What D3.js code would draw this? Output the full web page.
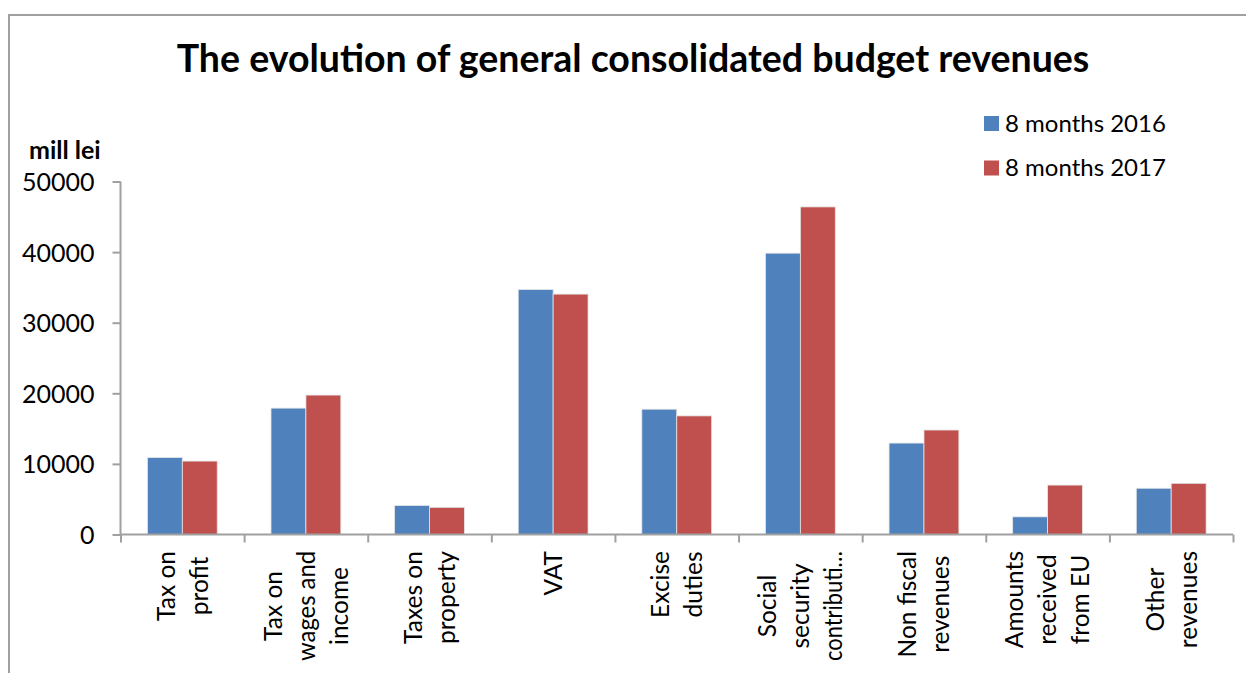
<!DOCTYPE html>
<html>
<head>
<meta charset="utf-8">
<script src="https://cdn.jsdelivr.net/npm/d3@7"></script>
<style>
body { margin: 0; background: #fff; }
svg { display: block; font-family: Lato, "Open Sans", sans-serif; }
</style>
</head>
<body>
<svg width="1246" height="673"></svg>
<script>
var categories = [
  "Tax on\nprofit",
  "Tax on\nwages and\nincome",
  "Taxes on\nproperty",
  "VAT",
  "Excise\nduties",
  "Social\nsecurity\ncontributi\u2026",
  "Non fiscal\nrevenues",
  "Amounts\nreceived\nfrom EU",
  "Other\nrevenues"
];
var seriesNames = ["8 months 2016", "8 months 2017"];
var values2016 = [10900, 17900, 4100, 34700, 17750, 39850, 12950, 2500, 6550];
var values2017 = [10400, 19750, 3850, 34050, 16800, 46400, 14800, 7000, 7250];
var yTicks = [0, 10000, 20000, 30000, 40000, 50000];
var colors = ["#4f81bd", "#c0504d"];

(function() {
var svg = d3.select("svg"),
    plotL = 120.5, plotR = 1233, plotT = 181.5, plotB = 534.5,
    axisColor = "#a0a0a0";

var rows = categories.map(function(c, i) {
  return {cat: c, vals: [values2016[i], values2017[i]]};
});

// outer chart border (only top and left visible in the picture)
svg.append("rect")
  .attr("x", 9).attr("y", 15)
  .attr("width", 1400).attr("height", 800)
  .attr("fill", "none")
  .attr("stroke", axisColor)
  .attr("stroke-width", 2);

svg.append("text")
  .attr("x", 633).attr("y", 72)
  .attr("text-anchor", "middle")
  .style("font-weight", "bold")
  .style("font-size", "37.5px")
  .text("The evolution of general consolidated budget revenues");

var x0 = d3.scaleBand().domain(categories).range([plotL, plotR]).paddingInner(0).paddingOuter(0);
var x1 = d3.scaleBand().domain([0, 1]).range([0, x0.bandwidth()]).paddingInner(0).paddingOuter(0.77);
var y = d3.scaleLinear().domain([0, 50000]).range([plotB, plotT]);

// bars
var groups = svg.append("g").selectAll("g")
  .data(rows)
  .enter().append("g")
  .attr("transform", function(d) { return "translate(" + x0(d.cat) + ",0)"; });

groups.selectAll("rect")
  .data(function(d) { return d.vals; })
  .enter().append("rect")
  .attr("x", function(d, i) { return x1(i); })
  .attr("width", x1.bandwidth())
  .attr("y", function(d) { return y(d); })
  .attr("height", function(d) { return plotB - y(d); })
  .attr("fill", function(d, i) { return colors[i]; })
  .attr("stroke", "#e6e6e6")
  .attr("stroke-width", 0.8);

// y axis
var yAxis = svg.append("g")
  .attr("transform", "translate(" + plotL + ",0)")
  .call(d3.axisLeft(y).tickValues(yTicks).tickFormat(d3.format("d")).tickSize(8).tickPadding(18));

// x axis, ticks on category boundaries
var xb = d3.scaleLinear().domain([0, categories.length]).range([plotL, plotR]);
var xAxis = svg.append("g")
  .attr("transform", "translate(0," + plotB + ")")
  .call(d3.axisBottom(xb).ticks(categories.length).tickFormat("").tickSize(8).tickSizeOuter(8));

[yAxis, xAxis].forEach(function(a) {
  a.select(".domain").attr("stroke", axisColor).attr("stroke-width", 2);
  a.selectAll(".tick line").attr("stroke", axisColor).attr("stroke-width", 2);
});
yAxis.selectAll(".tick text")
  .attr("fill", "#000")
  .style("font-size", "25px")
  .style("font-family", "Lato, sans-serif")
  .attr("dy", "0.36em");
yAxis.select(".domain").attr("d", "M0," + plotT + "V" + plotB);
xAxis.select(".domain").attr("d", "M" + plotL + ",0H" + plotR);

// category labels, rotated, lines centred inside a block that hangs from the axis
var lineGap = 33, maxLen = 110;
categories.forEach(function(c) {
  var lines = c.split("\n");
  var cx = x0(c) + x0.bandwidth() / 2;
  var g = svg.append("g");
  var texts = lines.map(function(l) {
    var t = g.append("text")
      .attr("text-anchor", "middle")
      .attr("dy", "0.36em")
      .style("font-size", "24.5px")
      .text(l);
    if (t.node().getComputedTextLength() > maxLen) {
      t.attr("textLength", maxLen).attr("lengthAdjust", "spacingAndGlyphs");
    }
    return t;
  });
  var maxW = d3.max(texts, function(t) { return Math.min(maxLen, t.node().getComputedTextLength()); });
  var cy = 551 + maxW / 2;
  texts.forEach(function(t, i) {
    var lx = cx + (i - (lines.length - 1) / 2) * lineGap;
    t.attr("transform", "translate(" + lx + "," + cy + ") rotate(-90)");
  });
});

svg.append("text")
  .attr("x", 29).attr("y", 159)
  .style("font-weight", "bold")
  .style("font-size", "25px")
  .text("mill lei");

// legend
var legend = svg.append("g").selectAll("g")
  .data(seriesNames)
  .enter().append("g")
  .attr("transform", function(d, i) { return "translate(984," + (116 + i * 44.5) + ")"; });
legend.append("rect")
  .attr("width", 15).attr("height", 15)
  .attr("fill", function(d, i) { return colors[i]; });
legend.append("text")
  .attr("x", 21).attr("y", 15.5)
  .style("font-size", "24px")
  .text(function(d) { return d; });
})();
</script>
</body>
</html>
